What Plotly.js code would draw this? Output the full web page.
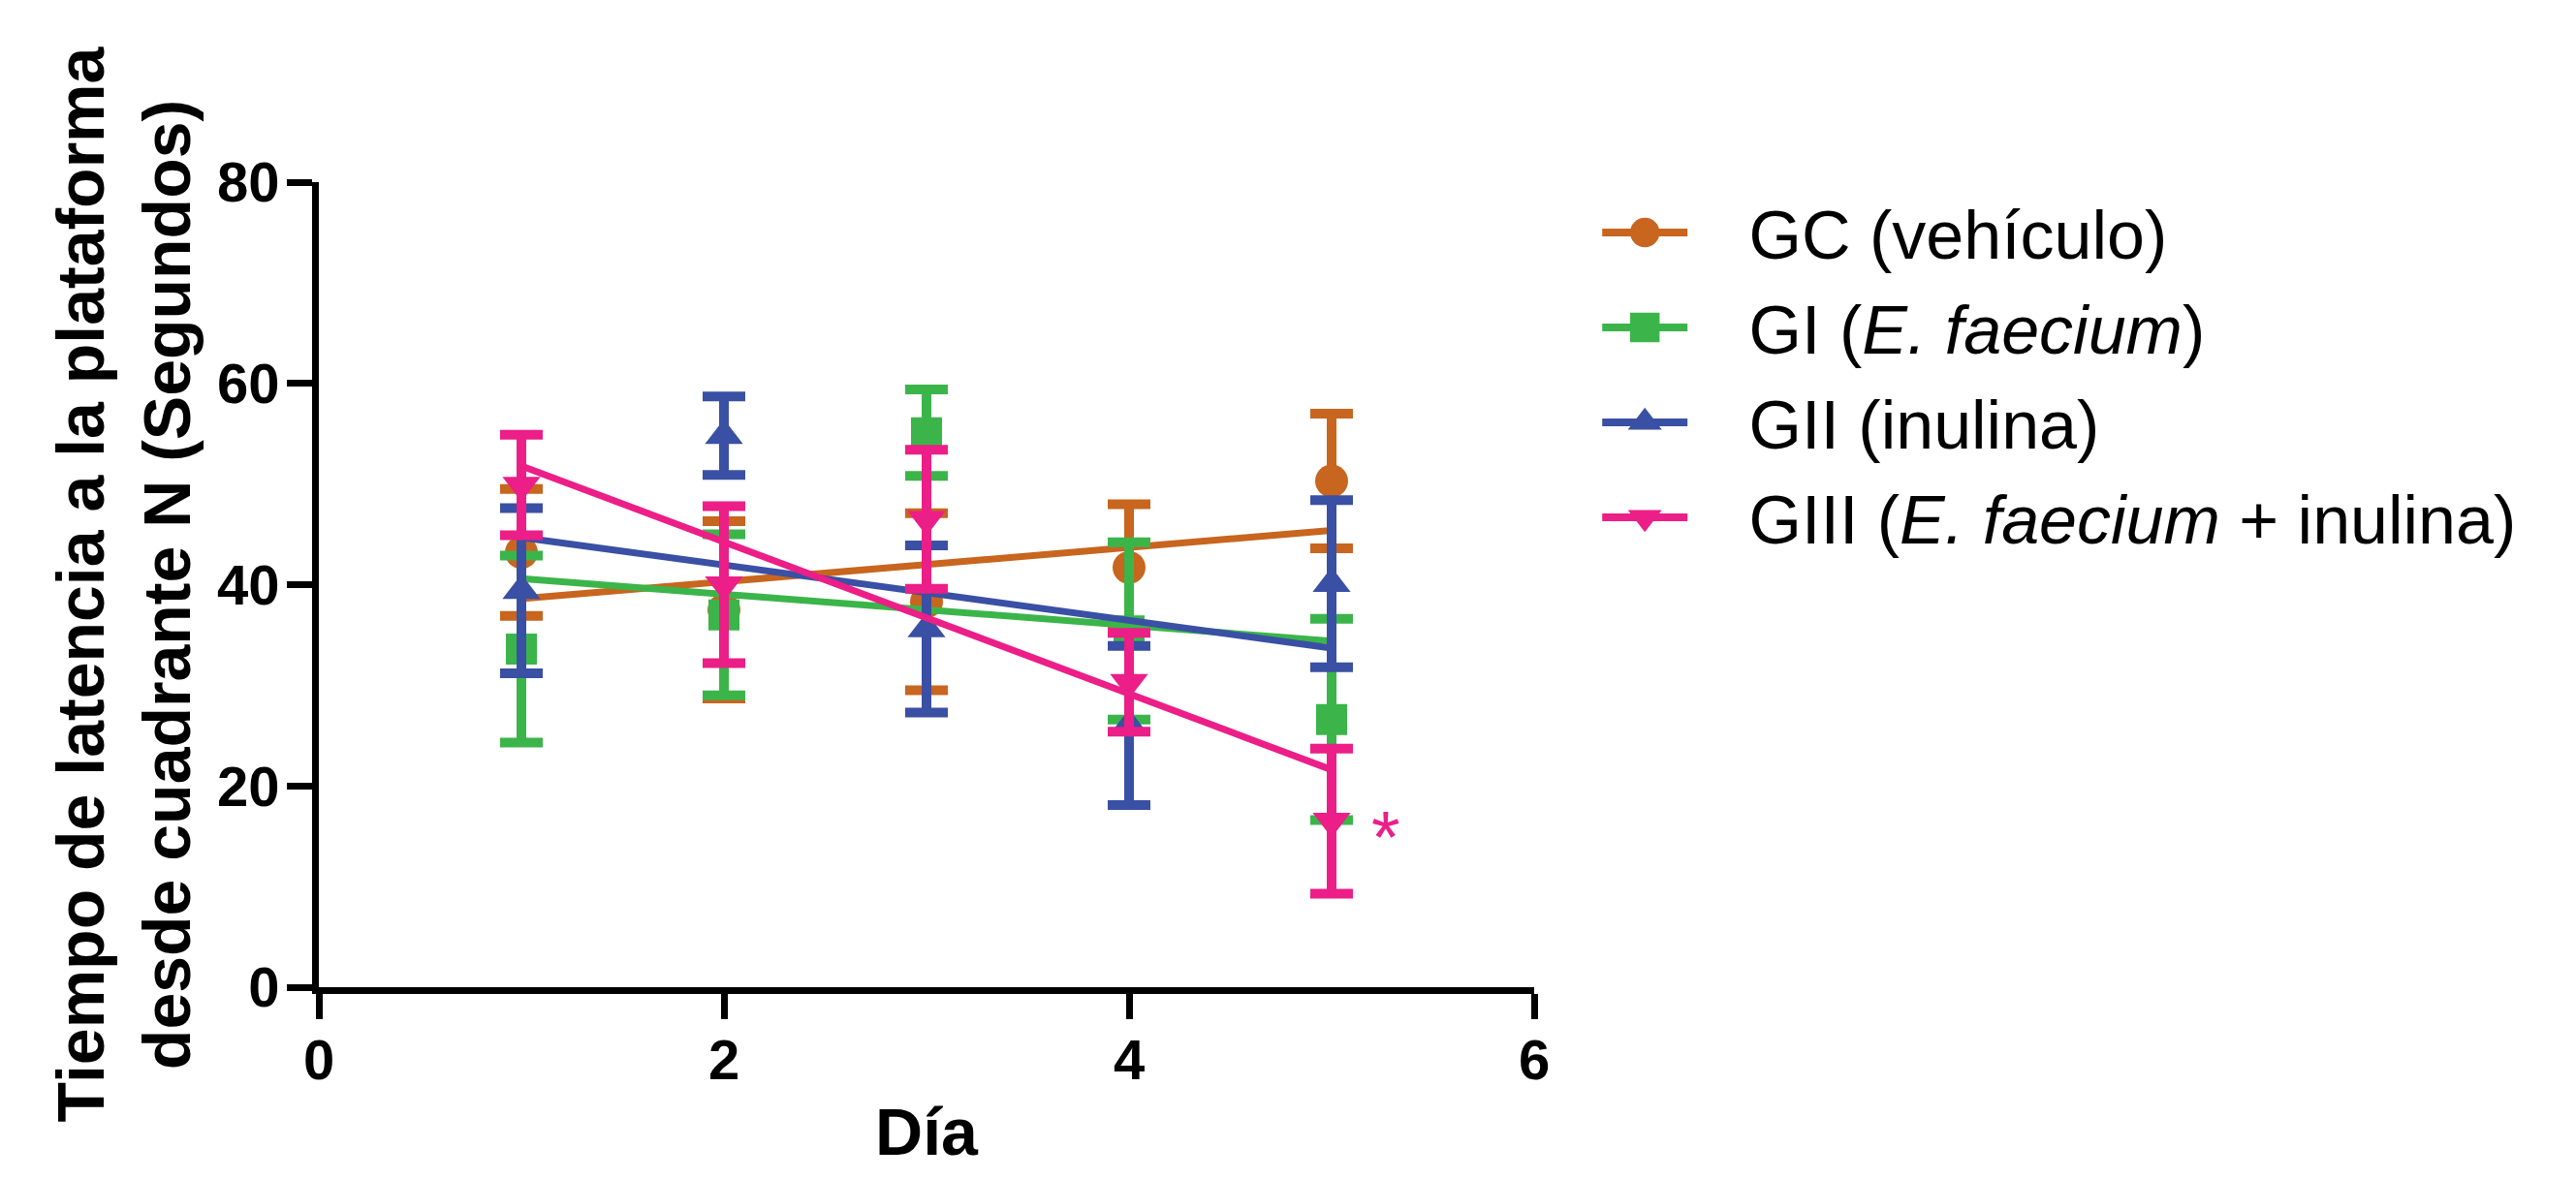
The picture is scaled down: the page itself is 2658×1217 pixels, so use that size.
<!DOCTYPE html>
<html>
<head>
<meta charset="utf-8">
<script src="https://cdn.plot.ly/plotly-3.0.1.min.js"></script>
<style>
  html, body { margin: 0; padding: 0; background: #ffffff; }
  #chart { width: 2658px; height: 1217px; }
</style>
</head>
<body>
<div id="chart"></div>
<script>
// ---- Data ----
const days = [1, 2, 3, 4, 5];

const gcMean   = [43.2, 37.5, 38.3, 41.7, 50.3];
const gcSem    = [6.3, 8.8, 8.8, 6.3, 6.7];

const giMean   = [33.6, 37.0, 55.1, 35.4, 26.6];
const giSem    = [9.3, 8.0, 4.3, 8.8, 10.0];

const giiMean  = [39.4, 54.8, 35.6, 26.0, 40.1];
const giiSem   = [8.2, 3.9, 8.3, 7.9, 8.3];

const giiiMean = [49.9, 40.0, 46.5, 30.3, 16.5];
const giiiSem  = [5.0, 7.8, 6.9, 4.9, 7.2];

// Linear-fit lines (values at day 1 and day 5)
const fitDays  = [1, 5];
const gcFit    = [38.6, 45.4];
const giFit    = [40.6, 34.4];
const giiFit   = [44.7, 33.7];
const giiiFit  = [51.8, 21.6];

const groupNames = [
  'GC (vehículo)',
  'GI (<i>E. faecium</i>)',
  'GII (inulina)',
  'GIII (<i>E. faecium</i> + inulina)'
];
const xTickVals = [0, 2, 4, 6];
const yTickVals = [0, 20, 40, 60, 80];
const starLabel = '*';
const starDay = 5.27;
const starValue = 15.0;

// ---- Styles ----
const colors  = ['#C8651E', '#3BB54A', '#3A50A4', '#EC1E87'];
const symbols = ['circle', 'square', 'triangle-up', 'triangle-down'];
const msize   = [34, 32, 34, 34];

const means = [gcMean, giMean, giiMean, giiiMean];
const sems  = [gcSem, giSem, giiSem, giiiSem];
const fits  = [gcFit, giFit, giiFit, giiiFit];

const traces = [];
for (let g = 0; g < 4; g++) {
  traces.push({
    type: 'scatter', mode: 'markers',
    x: days, y: means[g],
    error_y: { type: 'data', array: sems[g], visible: true,
               color: colors[g], thickness: 10, width: 22 },
    marker: { symbol: symbols[g], size: msize[g], color: colors[g] },
    showlegend: false, hoverinfo: 'x+y'
  });
  traces.push({
    type: 'scatter', mode: 'lines',
    x: fitDays, y: fits[g],
    line: { color: colors[g], width: 7 },
    showlegend: false, hoverinfo: 'skip'
  });
}
// legend entries (line + marker)
const pad = '&nbsp;&nbsp;&nbsp;';
for (let g = 0; g < 4; g++) {
  traces.push({
    type: 'scatter', mode: 'lines+markers',
    x: [null], y: [null],
    name: pad + groupNames[g],
    legendgroup: 'g' + g,
    line: { color: colors[g], width: 8 },
    marker: { symbol: symbols[g], size: msize[g], color: colors[g] },
    showlegend: true
  });
}

const fontFam = 'Liberation Sans, Arial, Helvetica, sans-serif';

const layout = {
  width: 2658, height: 1217,
  paper_bgcolor: '#ffffff', plot_bgcolor: '#ffffff',
  margin: { l: 329, r: 1075, t: 188, b: 198 },
  font: { family: fontFam, color: '#000000' },
  showlegend: true,
  legend: {
    x: 1.052, y: 1.0, xanchor: 'left', yanchor: 'top',
    font: { family: fontFam, size: 70, color: '#000000' },
    itemwidth: 88, bgcolor: 'rgba(0,0,0,0)', tracegroupgap: 4
  },
  xaxis: {
    range: [0, 6], tickvals: xTickVals, ticktext: xTickVals.map(String),
    showline: true, linecolor: '#000000', linewidth: 7,
    ticks: 'outside', ticklen: 26, tickwidth: 7, tickcolor: '#000000',
    ticklabelstandoff: -8,
    showgrid: false, zeroline: false,
    tickfont: { family: fontFam, size: 58, weight: 'bold', color: '#000000' },
    title: { text: 'Día', font: { family: fontFam, size: 68, weight: 'bold', color: '#000000' }, standoff: 22 }
  },
  yaxis: {
    range: [0, 80], tickvals: yTickVals, ticktext: yTickVals.map(String),
    showline: true, linecolor: '#000000', linewidth: 7,
    ticks: 'outside', ticklen: 26, tickwidth: 7, tickcolor: '#000000',
    ticklabelstandoff: -4,
    showgrid: false, zeroline: false,
    tickfont: { family: fontFam, size: 58, weight: 'bold', color: '#000000' },
    title: { text: 'Tiempo de latencia a la plataforma<br>desde cuadrante N (Segundos)',
             font: { family: fontFam, size: 68, weight: 'bold', color: '#000000' }, standoff: 8 }
  },
  annotations: [{
    x: starDay, y: starValue, xref: 'x', yref: 'y',
    text: starLabel, showarrow: false,
    font: { family: fontFam, size: 76, color: '#EC1E87' }
  }]
};

Plotly.newPlot('chart', traces, layout, { displayModeBar: false, staticPlot: true })
  .then(function (gd) {
    // legend symbols are capped at 16px by Plotly; enlarge to match the plot markers
    gd.querySelectorAll('.legend .legendpoints path.scatterpts').forEach(function (p) {
      const t = p.getAttribute('transform') || '';
      p.setAttribute('transform', t + ' scale(1.9)');
    });
  });
</script>
</body>
</html>
